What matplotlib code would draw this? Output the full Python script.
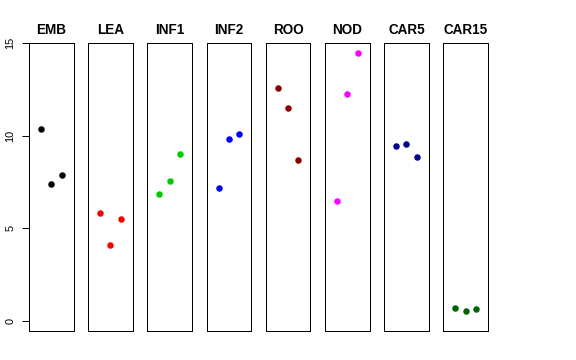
import matplotlib
matplotlib.use("Agg")
import matplotlib.pyplot as plt

categories = ["EMB", "LEA", "INF1", "INF2", "ROO", "NOD", "CAR5", "CAR15"]
colors = ["#000000", "#FF0000", "#00CD00", "#0000FF", "#8B0000", "#FF00FF", "#00008B", "#006400"]
positions = [1, 2, 3]
values = {
    "EMB": [10.35, 7.38, 7.86],
    "LEA": [5.84, 4.08, 5.48],
    "INF1": [6.84, 7.52, 9.00],
    "INF2": [7.19, 9.83, 10.08],
    "ROO": [12.58, 11.50, 8.67],
    "NOD": [6.46, 12.24, 14.44],
    "CAR5": [9.46, 9.54, 8.85],
    "CAR15": [0.70, 0.51, 0.63],
}
yticks = [0, 5, 10, 15]

plt.rcParams["font.family"] = ["Liberation Sans", "DejaVu Sans"]
fig = plt.figure(figsize=(8, 5), dpi=72)

W, H = 576.0, 360.0
left0, step, width = 29.0, 59.19, 44.6
top, bottom = 42.7, 331.3
ymax = max(max(v) for v in values.values())
ymin = 0.0
r = ymax - ymin

for i, cat in enumerate(categories):
    ax = fig.add_axes([(left0 + i * step) / W, (H - bottom) / H, width / W, (bottom - top) / H])
    ax.plot(positions, values[cat], "o", color=colors[i], markersize=6.5, markeredgewidth=0)
    ax.set_xlim(0 - 0.16, 4 + 0.16)
    ax.set_ylim(ymin - 0.04 * r, ymax + 0.04 * r)
    ax.set_xticks([])
    for s in ax.spines.values():
        s.set_linewidth(1.0)
        s.set_color("black")
    ax.set_title(cat, fontsize=13.5, fontweight="bold", pad=8.5)
    if i == 0:
        ax.set_yticks(yticks)
        ax.set_yticklabels([str(t) for t in yticks], rotation=90, va="center", fontsize=11)
        ax.tick_params(axis="y", length=7, width=1, pad=6.5)
    else:
        ax.set_yticks([])

fig.savefig("out.png", dpi=72)
